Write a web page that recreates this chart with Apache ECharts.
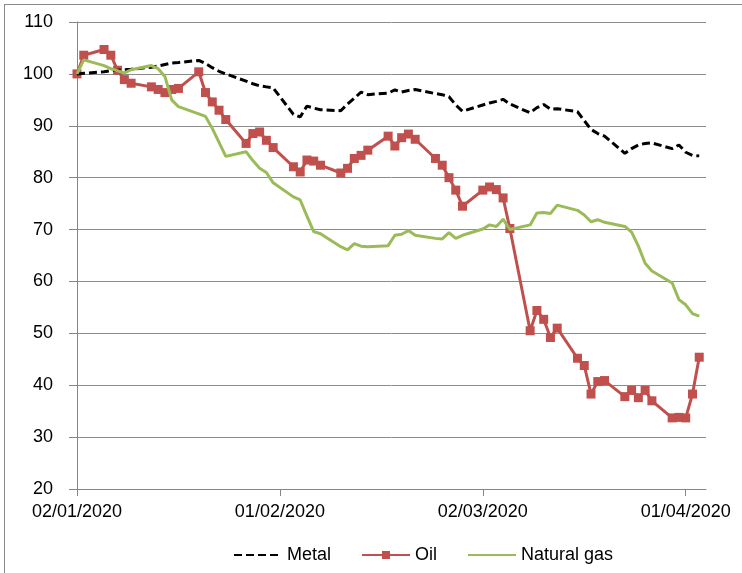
<!DOCTYPE html>
<html>
<head>
<meta charset="utf-8">
<script src="https://cdn.jsdelivr.net/npm/echarts@6/dist/echarts.min.js"></script>
<style>
  html, body { margin: 0; padding: 0; background: #fff; overflow: hidden; }
  #chart { position: absolute; left: 0; top: 0; width: 742px; height: 573px; }
  #frame { position: absolute; left: 4px; top: 4px; width: 800px; height: 700px;
           border: 1px solid #8a8a8a; pointer-events: none; }
</style>
</head>
<body>
<div id="chart"></div>
<div id="frame"></div>
<script>
// trading days (DD/MM/YYYY)
const dates = [
  '02/01/2020','03/01/2020','06/01/2020','07/01/2020','08/01/2020','09/01/2020','10/01/2020',
  '13/01/2020','14/01/2020','15/01/2020','16/01/2020','17/01/2020','20/01/2020','21/01/2020',
  '22/01/2020','23/01/2020','24/01/2020','27/01/2020','28/01/2020','29/01/2020','30/01/2020','31/01/2020',
  '03/02/2020','04/02/2020','05/02/2020','06/02/2020','07/02/2020','10/02/2020','11/02/2020',
  '12/02/2020','13/02/2020','14/02/2020','17/02/2020','18/02/2020','19/02/2020','20/02/2020',
  '21/02/2020','24/02/2020','25/02/2020','26/02/2020','27/02/2020','28/02/2020',
  '02/03/2020','03/03/2020','04/03/2020','05/03/2020','06/03/2020','09/03/2020','10/03/2020',
  '11/03/2020','12/03/2020','13/03/2020','16/03/2020','17/03/2020','18/03/2020','19/03/2020',
  '20/03/2020','23/03/2020','24/03/2020','25/03/2020','26/03/2020','27/03/2020','30/03/2020','31/03/2020',
  '01/04/2020','02/04/2020','03/04/2020'
];

const metal = [
  100.0, 100.1, 100.4, 100.6, 100.7, 100.8, 100.9, 101.3, 101.5, 101.8, 102.1, 102.2, 102.6, 102.0,
  101.2, 100.5, 100.0, 98.6, 98.1, 97.7, 97.5, 97.3,
  92.2, 91.7, 93.8, 93.4, 93.1, 92.9, 94.2, 95.3, 96.5, 96.0, 96.3, 96.9, 96.5, 96.8,
  97.0, 96.2, 96.0, 95.6, 94.0, 92.8,
  94.0, 94.4, 94.7, 95.1, 94.2, 92.5, 93.5, 94.1, 93.2, 93.3, 92.7, 91.0, 89.3, 88.5,
  88.0, 84.7, 85.6, 86.3, 86.6, 86.7, 85.6, 86.3,
  84.9, 84.3, 84.2
];

const oil = [
  100.0, 103.6, 104.7, 103.6, 100.7, 98.9, 98.2, 97.5, 97.0, 96.4, 97.0, 97.2, 100.4, 96.4,
  94.6, 93.0, 91.2, 86.6, 88.5, 88.8, 87.2, 85.8,
  82.1, 81.1, 83.4, 83.2, 82.4, 80.9, 81.8, 83.7, 84.3, 85.3, 88.0, 86.1, 87.7, 88.4,
  87.4, 83.7, 82.4, 80.0, 77.6, 74.5,
  77.6, 78.2, 77.7, 76.1, 70.2, 50.5, 54.4, 52.7, 49.2, 51.0, 45.2, 43.8, 38.3, 40.7,
  40.9, 37.8, 39.0, 37.6, 39.0, 37.0, 33.7, 33.8,
  33.7, 38.3, 45.4
];

const gas = [
  100.0, 102.7, 101.6, 101.0, 100.6, 100.2, 100.8, 101.6, 101.0, 99.5, 95.0, 93.7, 92.3, 91.8,
  89.5, 86.8, 84.1, 85.0, 83.3, 81.8, 81.0, 79.0,
  76.3, 75.7, 72.6, 69.6, 69.2, 66.7, 66.1, 67.3, 66.8, 66.7, 66.9, 68.9, 69.1, 69.8,
  68.9, 68.3, 68.2, 69.4, 68.3, 68.9,
  70.1, 70.9, 70.6, 72.0, 70.0, 70.9, 73.2, 73.3, 73.1, 74.7, 73.7, 72.8, 71.5, 71.9,
  71.4, 70.6, 69.5, 66.8, 63.5, 62.0, 59.7, 56.5,
  55.5, 53.8, 53.3
];

const xTicks = [0, 30, 60, 90];   // days after 02/01/2020
const yTicks = { min: 20, max: 110, step: 10 };

const start = Date.UTC(2020, 0, 2);
function dayOffset(s) {
  const p = s.split('/');
  return (Date.UTC(+p[2], +p[1] - 1, +p[0]) - start) / 86400000;
}
function fmtDay(v) {
  const d = new Date(start + v * 86400000);
  const pad = n => (n < 10 ? '0' : '') + n;
  return pad(d.getUTCDate()) + '/' + pad(d.getUTCMonth() + 1) + '/' + d.getUTCFullYear();
}
const xs = dates.map(dayOffset);
const pairs = arr => arr.map((v, i) => [xs[i], v]);

const font = 'Liberation Sans, Arial, sans-serif';
const chart = echarts.init(document.getElementById('chart'));
chart.setOption({
  animation: false,
  grid: { left: 77, right: 36, top: 22, bottom: 84 },
  xAxis: {
    type: 'value',
    min: 0,
    max: 93,
    interval: 30,
    axisLine: { lineStyle: { color: '#868686', width: 1 } },
    axisTick: { show: true, length: 7, customValues: xTicks, lineStyle: { color: '#868686' } },
    axisLabel: { customValues: xTicks, formatter: fmtDay, color: '#000', fontFamily: font, fontSize: 18, margin: 14 },
    splitLine: { show: false }
  },
  yAxis: {
    type: 'value',
    min: yTicks.min,
    max: yTicks.max,
    interval: yTicks.step,
    axisLine: { show: true, lineStyle: { color: '#868686', width: 1 } },
    axisTick: { show: true, length: 8, lineStyle: { color: '#868686' } },
    axisLabel: { color: '#000', fontFamily: font, fontSize: 18, margin: 24 },
    splitLine: { lineStyle: { color: '#8c8c8c', width: 1 } }
  },
  legend: {
    left: 228,
    top: 541,
    itemWidth: 48,
    itemHeight: 10,
    itemGap: 30,
    textStyle: { color: '#000', fontFamily: font, fontSize: 18 },
    data: [
      { name: 'Metal', itemStyle: { opacity: 0 } },
      { name: 'Oil' },
      { name: 'Natural gas', itemStyle: { opacity: 0 } }
    ]
  },
  series: [
    {
      name: 'Metal',
      type: 'line',
      data: pairs(metal),
      symbol: 'none',
      lineStyle: { color: '#000', width: 3, type: [8, 4] },
      itemStyle: { color: '#000' },
      z: 3
    },
    {
      name: 'Oil',
      type: 'line',
      data: pairs(oil),
      symbol: 'rect',
      symbolSize: 9,
      lineStyle: { color: '#C0504D', width: 3 },
      itemStyle: { color: '#C0504D' },
      z: 2
    },
    {
      name: 'Natural gas',
      type: 'line',
      data: pairs(gas),
      symbol: 'none',
      lineStyle: { color: '#9BBB59', width: 3 },
      itemStyle: { color: '#9BBB59' },
      z: 4
    }
  ]
});
</script>
</body>
</html>
